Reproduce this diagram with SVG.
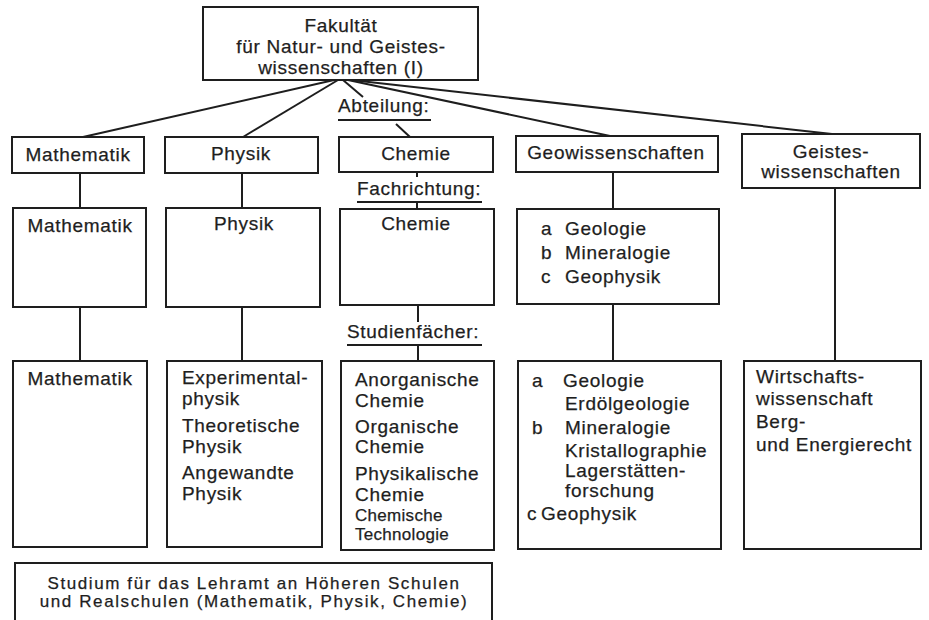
<svg xmlns="http://www.w3.org/2000/svg" width="929" height="620" viewBox="0 0 929 620">
<style>
.box{fill:none;stroke:#1e1e1e;stroke-width:2}
.ln{fill:none;stroke:#1e1e1e;stroke-width:2}
.t{font-family:"Liberation Sans",Arial,sans-serif;font-size:19px;letter-spacing:0.7px;fill:#1e1e1e;stroke:#1e1e1e;stroke-width:0.25px}
.c{text-anchor:middle}
.s{font-size:17px;letter-spacing:0.3px}
.b{font-size:17px;letter-spacing:1.6px}
</style>
<rect width="929" height="620" fill="#ffffff"/>
<g id="connectors">
<line class="ln" x1="334" y1="80" x2="83" y2="137"/>
<line class="ln" x1="338" y1="80" x2="243" y2="137"/>
<line class="ln" x1="343" y1="80" x2="363" y2="97"/>
<line class="ln" x1="396" y1="124" x2="410" y2="137"/>
<line class="ln" x1="348" y1="80" x2="610" y2="136"/>
<line class="ln" x1="351" y1="80" x2="832" y2="134"/>
<line class="ln" x1="80" y1="173" x2="80" y2="208"/>
<line class="ln" x1="242" y1="173" x2="242" y2="208"/>
<line class="ln" x1="417" y1="172" x2="417" y2="177"/>
<line class="ln" x1="417" y1="203" x2="417" y2="209"/>
<line class="ln" x1="613" y1="172" x2="613" y2="209"/>
<line class="ln" x1="80" y1="307" x2="80" y2="361"/>
<line class="ln" x1="242" y1="307" x2="242" y2="361"/>
<line class="ln" x1="418" y1="305" x2="418" y2="322"/>
<line class="ln" x1="418" y1="346" x2="418" y2="361"/>
<line class="ln" x1="613" y1="304" x2="613" y2="361"/>
<line class="ln" x1="835" y1="188" x2="835" y2="361"/>
</g>
<g id="labels">
<text class="t" x="338" y="112">Abteilung:</text>
<line class="ln" x1="338" y1="120" x2="431" y2="120"/>
<text class="t" x="357" y="195">Fachrichtung:</text>
<line class="ln" x1="357" y1="202" x2="482" y2="202"/>
<text class="t" x="347" y="338">Studienfächer:</text>
<line class="ln" x1="347" y1="345" x2="482" y2="345"/>
</g>
<g id="fakultaet">
<rect class="box" x="203" y="7" width="275" height="73"/>
<text class="t c" x="341" y="32">Fakultät</text>
<text class="t c" x="341" y="53">für Natur- und Geistes-</text>
<text class="t c" x="341" y="74">wissenschaften (I)</text>
</g>
<g id="abt-mathematik">
<rect class="box" x="12" y="137" width="132" height="36"/>
<text class="t c" x="78" y="161">Mathematik</text>
</g>
<g id="abt-physik">
<rect class="box" x="165" y="137" width="153" height="36"/>
<text class="t c" x="241" y="160">Physik</text>
</g>
<g id="abt-chemie">
<rect class="box" x="339" y="137" width="154" height="35"/>
<text class="t c" x="416" y="160">Chemie</text>
</g>
<g id="abt-geo">
<rect class="box" x="516" y="136" width="202" height="36"/>
<text class="t c" x="616" y="159">Geowissenschaften</text>
</g>
<g id="abt-geistes">
<rect class="box" x="742" y="134" width="178" height="54"/>
<text class="t c" x="831" y="158">Geistes-</text>
<text class="t c" x="831" y="178">wissenschaften</text>
</g>
<g id="fach-mathematik">
<rect class="box" x="13" y="208" width="133" height="99"/>
<text class="t c" x="80" y="232">Mathematik</text>
</g>
<g id="fach-physik">
<rect class="box" x="166" y="208" width="154" height="99"/>
<text class="t c" x="244" y="230">Physik</text>
</g>
<g id="fach-chemie">
<rect class="box" x="340" y="209" width="154" height="96"/>
<text class="t c" x="416" y="230">Chemie</text>
</g>
<g id="fach-geo">
<rect class="box" x="517" y="209" width="202" height="95"/>
<text class="t" x="541" y="235">a</text><text class="t" x="565" y="235">Geologie</text>
<text class="t" x="541" y="259">b</text><text class="t" x="565" y="259">Mineralogie</text>
<text class="t" x="541" y="283">c</text><text class="t" x="565" y="283">Geophysik</text>
</g>
<g id="studium-mathematik">
<rect class="box" x="13" y="361" width="134" height="186"/>
<text class="t c" x="80" y="385">Mathematik</text>
</g>
<g id="studium-physik">
<rect class="box" x="167" y="361" width="155" height="186"/>
<text class="t" x="182" y="384">Experimental-</text>
<text class="t" x="182" y="405">physik</text>
<text class="t" x="182" y="432">Theoretische</text>
<text class="t" x="182" y="453">Physik</text>
<text class="t" x="182" y="479">Angewandte</text>
<text class="t" x="182" y="500">Physik</text>
</g>
<g id="studium-chemie">
<rect class="box" x="341" y="361" width="153" height="189"/>
<text class="t" x="355" y="386">Anorganische</text>
<text class="t" x="355" y="407">Chemie</text>
<text class="t" x="355" y="433">Organische</text>
<text class="t" x="355" y="453">Chemie</text>
<text class="t" x="355" y="480">Physikalische</text>
<text class="t" x="355" y="501">Chemie</text>
<text class="t s" x="355" y="521">Chemische</text>
<text class="t s" x="355" y="540">Technologie</text>
</g>
<g id="studium-geo">
<rect class="box" x="518" y="361" width="203" height="188"/>
<text class="t" x="532" y="387">a</text><text class="t" x="563" y="387">Geologie</text>
<text class="t" x="565" y="410">Erdölgeologie</text>
<text class="t" x="532" y="434">b</text><text class="t" x="565" y="434">Mineralogie</text>
<text class="t" x="565" y="457">Kristallographie</text>
<text class="t" x="565" y="477">Lagerstätten-</text>
<text class="t" x="565" y="497">forschung</text>
<text class="t" x="527" y="520">c</text><text class="t" x="541" y="520">Geophysik</text>
</g>
<g id="studium-geistes">
<rect class="box" x="744" y="361" width="177" height="188"/>
<text class="t" x="756" y="383">Wirtschafts-</text>
<text class="t" x="756" y="405">wissenschaft</text>
<text class="t" x="756" y="428">Berg-</text>
<text class="t" x="756" y="451">und Energierecht</text>
</g>
<g id="lehramt">
<path class="box" d="M15,620 V563 H492 V620"/>
<text class="t c b" x="254" y="589">Studium für das Lehramt an Höheren Schulen</text>
<text class="t c b" x="254" y="607">und Realschulen (Mathematik, Physik, Chemie)</text>
</g>
</svg>
